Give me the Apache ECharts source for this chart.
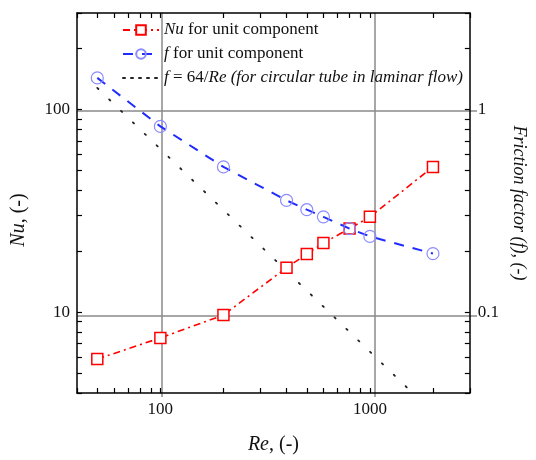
<!DOCTYPE html>
<html>
<head>
<meta charset="utf-8">
<script src="https://cdn.jsdelivr.net/npm/echarts@6/dist/echarts.min.js"></script>
<style>
  html, body { margin: 0; background: #fff; }
  #chart { width: 536px; height: 460px; }
</style>
</head>
<body>
<div id="chart"></div>
<script>
// data
const reynolds = [50, 100, 200, 400, 500, 600, 800, 1000, 2000]
const nusselt = [5.88, 7.48, 9.7, 16.6, 19.4, 22.0, 25.9, 29.6, 52.2]
const friction = [1.435, 0.827, 0.522, 0.357, 0.321, 0.296, 0.259, 0.237, 0.195]
const laminarRe = [50, 2000]
const laminarF = [1.28, 0.032]

// ticks and labels
const reTicks = [40, 50, 60, 70, 80, 90, 100, 200, 300, 400, 500, 600, 700, 800, 900, 1000, 2000, 3000]
const nuTicks = [4, 5, 6, 7, 8, 9, 10, 20, 30, 40, 50, 60, 70, 80, 90, 100, 200, 300]
const fTicks = [0.04, 0.05, 0.06, 0.07, 0.08, 0.09, 0.1, 0.2, 0.3, 0.4, 0.5, 0.6, 0.7, 0.8, 0.9, 1, 2, 3]
const reLabels = [100, 1000]
const nuLabels = [10, 100]
const fLabels = [0.1, 1]

const serif = 'Liberation Serif'
const gridBox = { left : 77, right : 59, top : 13, bottom : 63 }

const pair = ( xs, ys ) => xs.map( ( x, i ) => [x, ys[i]] )

const frameAxis = ( extra ) => Object.assign( {
  type : 'log',
  logBase : 10,
  axisLine : { show : true, onZero : false, lineStyle : { color : '#000', width : 1.5 } },
  axisTick : { show : true, inside : true, length : 5, lineStyle : { color : '#000', width : 1.2 } },
  axisLabel : { show : false },
  splitLine : { show : false }
}, extra )

const labelStyle = ( values, margin ) => ( {
  show : true,
  customValues : values,
  margin,
  formatter : ( v ) => String( v ),
  color : '#111',
  fontFamily : serif,
  fontSize : 17
} )

const tickStyle = ( values ) => ( {
  show : true,
  inside : true,
  length : 5,
  customValues : values,
  lineStyle : { color : '#000', width : 1.2 }
} )

const splitAxis = ( values, min, max ) => ( {
  type : 'log',
  logBase : 10,
  gridIndex : 1,
  min,
  max,
  axisLine : { show : false },
  axisTick : { show : false, customValues : values },
  axisLabel : { show : false },
  splitLine : { show : true, lineStyle : { color : '#8a8a8a', width : 1.5 } }
} )

const chart = echarts.init( document.getElementById( 'chart' ) )

chart.setOption( {
  animation : false,
  grid : [
    Object.assign( { containLabel : false }, gridBox ),
    Object.assign( { containLabel : false }, gridBox )
  ],
  legend : {
    orient : 'vertical',
    left : 117,
    top : 16,
    itemWidth : 36,
    itemHeight : 12,
    itemGap : 6,
    textStyle : {
      fontFamily : serif,
      fontSize : 17,
      lineHeight : 18,
      color : '#111',
      rich : {
        i : { fontFamily : serif, fontSize : 17, fontStyle : 'italic', color : '#111' }
      }
    },
    data : [
      { name : 'nu' },
      { name : 'f' },
      { name : 'lam', itemStyle : { color : 'rgba(0,0,0,0)', borderWidth : 0 }, lineStyle : { type : [2, 6] } }
    ],
    formatter : ( name ) => {
      if ( name === 'nu' ) return '{i|Nu} for unit component'
      if ( name === 'f' ) return '{i|f} for unit component'
      return '{i|f} = 64/{i|Re (for circular tube in laminar flow)}'
    }
  },
  xAxis : [
    frameAxis( {
      position : 'bottom',
      min : 40,
      max : 3000,
      axisTick : tickStyle( reTicks ),
      axisLabel : labelStyle( reLabels, 8 ),
      name : '{i|Re}, (-)',
      nameLocation : 'middle',
      nameGap : 42,
      nameTextStyle : {
        fontFamily : serif, fontSize : 20, color : '#111',
        rich : { i : { fontFamily : serif, fontSize : 20, fontStyle : 'italic', color : '#111' } }
      }
    } ),
    frameAxis( {
      position : 'top',
      min : 40,
      max : 3000,
      axisTick : tickStyle( reTicks )
    } ),
    splitAxis( reLabels, 40, 3000 )
  ],
  yAxis : [
    frameAxis( {
      position : 'left',
      min : 4,
      max : 300,
      axisTick : tickStyle( nuTicks ),
      axisLabel : labelStyle( nuLabels, 7 ),
      name : '{i|Nu}, (-)',
      nameLocation : 'middle',
      nameGap : 48,
      nameTextStyle : {
        fontFamily : serif, fontSize : 20, color : '#111', padding : [0, 34, 0, 0],
        rich : { i : { fontFamily : serif, fontSize : 20, fontStyle : 'italic', color : '#111' } }
      }
    } ),
    frameAxis( {
      position : 'right',
      min : 0.04,
      max : 3,
      axisTick : tickStyle( fTicks ),
      axisLabel : labelStyle( fLabels, 8 ),
      name : 'Friction factor (f), (-)',
      nameLocation : 'middle',
      nameRotate : -90,
      nameGap : 36,
      nameTextStyle : { fontFamily : serif, fontSize : 18, fontStyle : 'italic', color : '#111' }
    } ),
    splitAxis( nuLabels, 4, 300 )
  ],
  series : [
    {
      name : 'lam',
      type : 'line',
      xAxisIndex : 0,
      yAxisIndex : 1,
      data : pair( laminarRe, laminarF ),
      symbol : 'none',
      lineStyle : { color : '#222', width : 1.8, type : [1.5, 15], cap : 'round' },
      z : 2
    },
    {
      name : 'nu',
      type : 'line',
      xAxisIndex : 0,
      yAxisIndex : 0,
      data : pair( reynolds, nusselt ),
      symbol : 'rect',
      symbolSize : 11,
      itemStyle : { color : '#fff', borderColor : '#ff0000', borderWidth : 1.5 },
      lineStyle : { color : '#ff0000', width : 1.6, type : [7, 4, 2, 4] },
      z : 3
    },
    {
      name : 'f',
      type : 'line',
      xAxisIndex : 0,
      yAxisIndex : 1,
      data : pair( reynolds, friction ),
      symbol : 'circle',
      symbolSize : 12,
      itemStyle : { color : 'rgba(255,255,255,0)', borderColor : '#8c8cff', borderWidth : 1.2 },
      lineStyle : { color : '#1f2bff', width : 2, type : [10, 9] },
      z : 4
    }
  ]
} )
</script>
</body>
</html>
